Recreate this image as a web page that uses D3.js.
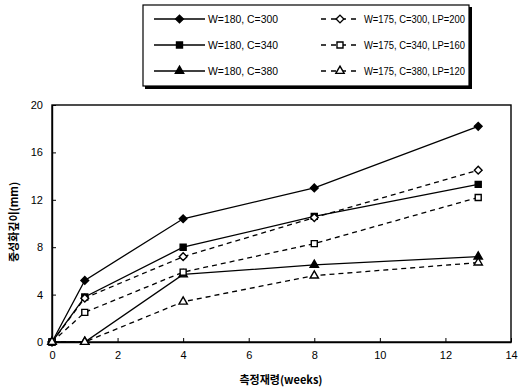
<!DOCTYPE html>
<html>
<head>
<meta charset="utf-8">
<script src="https://cdn.jsdelivr.net/npm/d3@7"></script>
<style>
  body { margin: 0; background: #fff; }
  svg { display: block; font-family: "Liberation Sans", Arial, sans-serif; }
</style>
</head>
<body>
<script>
'use strict';
const weeks = [0, 1, 4, 8, 13];
const labels = ['W=180, C=300', 'W=180, C=340', 'W=180, C=380',
  'W=175, C=300, LP=200', 'W=175, C=340, LP=160', 'W=175, C=380, LP=120'];
const values = [
  [0, 5.2, 10.4, 13.0, 18.2],
  [0, 3.8, 8.0, 10.6, 13.3],
  [0, 0, 5.7, 6.5, 7.2],
  [0, 3.7, 7.2, 10.5, 14.5],
  [0, 2.5, 5.9, 8.3, 12.2],
  [0, 0, 3.4, 5.6, 6.7]
];
const shapes = ['diamond', 'square', 'triangle', 'diamond', 'square', 'triangle'];
const filled = [true, true, true, false, false, false];
const dashed = [false, false, false, true, true, true];
const xTicks = [0, 2, 4, 6, 8, 10, 12, 14];
const yTicks = [0, 4, 8, 12, 16, 20];

const width = 523, height = 389;
const svg = d3.select('body').append('svg').attr('width', width).attr('height', height);

const x = d3.scaleLinear().domain([0, 14]).range([52, 511]);
const y = d3.scaleLinear().domain([0, 20]).range([342, 105]);

// square-ish diamond, not the tall d3 one
const squareDiamond = {
  draw(ctx, size) {
    const r = Math.sqrt(size / 2);
    ctx.moveTo(0, -r); ctx.lineTo(r, 0); ctx.lineTo(0, r); ctx.lineTo(-r, 0); ctx.closePath();
  }
};
const symType = {diamond: squareDiamond, square: d3.symbolSquare, triangle: d3.symbolTriangle};
const symSize = {diamond: 30, square: 36, triangle: 30};

function marker(g, i, cx, cy) {
  g.append('path')
    .attr('d', d3.symbol().type(symType[shapes[i]]).size(symSize[shapes[i]])())
    .attr('transform', `translate(${cx},${cy})`)
    .attr('fill', filled[i] ? '#000' : '#fff')
    .attr('stroke', '#000')
    .attr('stroke-width', 1.4);
}

// frame
svg.append('rect')
  .attr('x', x(0)).attr('y', y(20))
  .attr('width', x(14) - x(0)).attr('height', y(0) - y(20))
  .attr('fill', 'none').attr('stroke', '#000').attr('stroke-width', 1.4);

// axes (inside ticks)
svg.append('g')
  .attr('transform', `translate(0,${y(0)})`)
  .call(d3.axisBottom(x).tickValues(xTicks).tickSizeInner(-4).tickSizeOuter(0).tickPadding(9))
  .call(g => g.select('.domain').attr('stroke-width', 1.4))
  .call(g => g.selectAll('text').attr('font-size', 11).attr('fill', '#000'));

svg.append('g')
  .attr('transform', `translate(${x(0)},0)`)
  .call(d3.axisLeft(y).tickValues(yTicks).tickSizeInner(-4).tickSizeOuter(0).tickPadding(9))
  .call(g => g.select('.domain').attr('stroke-width', 1.4))
  .call(g => g.selectAll('text').attr('font-size', 11).attr('fill', '#000'));

// lines
const line = d3.line().x((d, j) => x(weeks[j])).y(d => y(d));
values.forEach((vals, i) => {
  svg.append('path')
    .attr('d', line(vals))
    .attr('fill', 'none')
    .attr('stroke', '#000')
    .attr('stroke-width', 1.3)
    .attr('stroke-dasharray', dashed[i] ? '5,4' : null);
});
values.forEach((vals, i) => {
  const g = svg.append('g');
  vals.forEach((v, j) => marker(g, i, x(weeks[j]), y(v)));
});

// axis titles
svg.append('text')
  .attr('x', 281).attr('y', 384)
  .attr('text-anchor', 'middle')
  .attr('font-family', '"Noto Sans CJK KR", sans-serif')
  .attr('font-size', 11).attr('font-weight', 'bold')
  .text('측정재령(weeks)');

svg.append('text')
  .attr('transform', 'translate(18,222) rotate(-90)')
  .attr('text-anchor', 'middle')
  .attr('font-family', '"Noto Sans CJK KR", sans-serif')
  .attr('font-size', 11).attr('font-weight', 'bold')
  .text('중성화깊이(mm)');

// legend
const lg = svg.append('g');
lg.append('rect').attr('x', 145).attr('y', 7).attr('width', 327).attr('height', 82).attr('fill', '#000');
lg.append('rect').attr('x', 143).attr('y', 5).attr('width', 326).attr('height', 81)
  .attr('fill', '#fff').attr('stroke', '#000').attr('stroke-width', 1.2);

labels.forEach((lab, i) => {
  const col = i < 3 ? 0 : 1;
  const row = i % 3;
  const cy = 19 + row * 26;
  const x0 = col === 0 ? 154 : 321;
  const x1 = col === 0 ? 205 : 359;
  lg.append('line')
    .attr('x1', x0).attr('x2', x1).attr('y1', cy).attr('y2', cy)
    .attr('stroke', '#000').attr('stroke-width', 1.3)
    .attr('stroke-dasharray', dashed[i] ? '5,5' : null);
  marker(lg, i, (x0 + x1) / 2, cy);
  lg.append('text')
    .attr('x', col === 0 ? 208 : 364).attr('y', cy + 4)
    .attr('font-size', 10.5).attr('fill', '#000')
    .attr('textLength', col === 0 ? 70 : 101)
    .attr('lengthAdjust', 'spacingAndGlyphs')
    .text(lab);
});
</script>
</body>
</html>
